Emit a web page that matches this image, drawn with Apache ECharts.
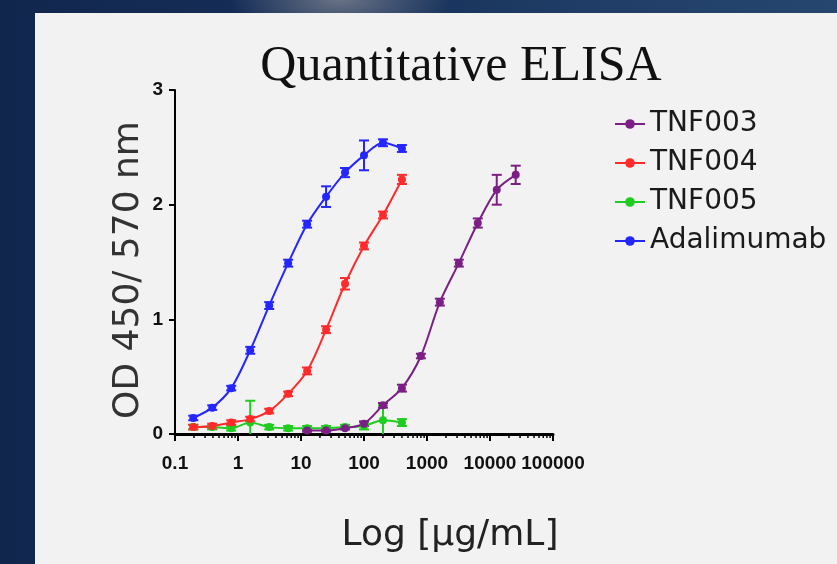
<!DOCTYPE html>
<html>
<head>
<meta charset="utf-8">
<script src="https://cdn.jsdelivr.net/npm/echarts@6/dist/echarts.min.js"></script>
<style>
  html, body { margin: 0; padding: 0; width: 837px; height: 564px; overflow: hidden; }
  body {
    background:
      radial-gradient(ellipse 110px 40px at 340px 0px, rgba(120,125,140,0.85), rgba(120,125,140,0) 100%),
      linear-gradient(90deg, #11264d 0%, #16305a 40%, #1f3d66 70%, #27466f 100%);
    position: relative;
  }
  #panel { position: absolute; left: 35px; top: 13px; width: 802px; height: 551px; background: #f2f2f2; }
</style>
</head>
<body>
<div id="panel"></div>
<script>
// dilution series (µg/mL)
var conc = [0.195, 0.39, 0.78, 1.5625, 3.125, 6.25, 12.5, 25, 50, 100, 200, 400];
var concTNF003 = [12.5, 25, 50, 100, 200, 400, 800, 1600, 3200, 6400, 12800, 25600];

// OD 450/570 readings and error (SD)
var odTNF003 = [0.03, 0.03, 0.05, 0.09, 0.25, 0.40, 0.68, 1.15, 1.49, 1.84, 2.13, 2.26];
var errTNF003 = [0.01, 0.01, 0.01, 0.02, 0.02, 0.03, 0.02, 0.03, 0.03, 0.04, 0.13, 0.08];
var odTNF004 = [0.06, 0.07, 0.10, 0.13, 0.20, 0.35, 0.55, 0.91, 1.31, 1.64, 1.91, 2.22];
var errTNF004 = [0.02, 0.02, 0.02, 0.02, 0.02, 0.02, 0.03, 0.03, 0.05, 0.03, 0.03, 0.04];
var odTNF005 = [0.06, 0.06, 0.05, 0.10, 0.06, 0.05, 0.05, 0.05, 0.06, 0.07, 0.12, 0.10];
var errTNF005 = [0.02, 0.02, 0.02, 0.19, 0.02, 0.02, 0.02, 0.02, 0.02, 0.03, 0.13, 0.03];
var odAdalimumab = [0.14, 0.23, 0.40, 0.73, 1.12, 1.49, 1.83, 2.07, 2.28, 2.43, 2.54, 2.49];
var errAdalimumab = [0.02, 0.02, 0.02, 0.03, 0.03, 0.03, 0.03, 0.09, 0.04, 0.13, 0.03, 0.03];

var xTickLabels = ['0.1', '1', '10', '100', '1000', '10000', '100000'];
var yTickLabels = ['0', '1', '2', '3'];
var minorMultipliers = [2, 3, 4, 5, 6, 7, 8, 9];

var colors = {
    TNF003: '#7b1f85',
    TNF004: '#ff2b2b',
    TNF005: '#1fcc1f',
    Adalimumab: '#2525ff'
};

function pairs(xs, ys) {
    return xs.map(function (x, i) { return [x, ys[i]]; });
}
function errPairs(xs, ys, es) {
    return xs.map(function (x, i) { return [x, ys[i] - es[i], ys[i] + es[i]]; });
}

var minorTicks = [];
for (var d = -1; d < 5; d++) {
    minorMultipliers.forEach(function (m) { minorTicks.push(m * Math.pow(10, d)); });
}

var chart = echarts.init(document.getElementById('panel'));

function lineSeries(name, xs, ys) {
    return {
        name: name,
        type: 'line',
        data: pairs(xs, ys),
        smooth: 0.3,
        symbol: 'circle',
        symbolSize: 8,
        color: colors[name],
        lineStyle: { width: 2, color: colors[name] },
        itemStyle: { color: colors[name] },
        z: 4
    };
}

function errorSeries(name, xs, ys, es) {
    return {
        name: name + ' SD',
        type: 'custom',
        clip: true,
        silent: true,
        z: 3,
        encode: { x: 0, y: [1, 2] },
        data: errPairs(xs, ys, es),
        renderItem: function (params, api) {
            var top = api.coord([api.value(0), api.value(2)]);
            var bot = api.coord([api.value(0), api.value(1)]);
            var style = { stroke: colors[name], lineWidth: 2 };
            return {
                type: 'group',
                children: [
                    { type: 'line', shape: { x1: top[0], y1: top[1], x2: bot[0], y2: bot[1] }, style: style },
                    { type: 'line', shape: { x1: top[0] - 5, y1: top[1], x2: top[0] + 5, y2: top[1] }, style: style },
                    { type: 'line', shape: { x1: bot[0] - 5, y1: bot[1], x2: bot[0] + 5, y2: bot[1] }, style: style }
                ]
            };
        }
    };
}

var option = {
    animation: false,
    title: {
        text: 'Quantitative ELISA',
        left: 421,
        top: 24,
        textAlign: 'center',
        textStyle: {
            fontFamily: 'Liberation Serif',
            fontWeight: 'normal',
            fontSize: 50,
            color: '#111'
        }
    },
    legend: {
        data: ['TNF003', 'TNF004', 'TNF005', 'Adalimumab'],
        orient: 'vertical',
        left: 574,
        top: 92,
        itemWidth: 30,
        itemHeight: 12,
        itemGap: 11,
        textStyle: { fontFamily: 'DejaVu Sans', fontSize: 28, color: '#1a1a1a' }
    },
    grid: { left: 140, top: 77, width: 378, height: 344 },
    xAxis: {
        type: 'log',
        logBase: 10,
        min: 0.1,
        max: 100000,
        name: 'Log [µg/mL]',
        nameLocation: 'middle',
        nameGap: 84,
        nameTextStyle: { fontFamily: 'DejaVu Sans', fontSize: 36, color: '#222', padding: [0, 0, 0, 172] },
        splitLine: { show: false },
        axisLine: { lineStyle: { color: '#000', width: 3 } },
        axisTick: { show: true, length: 7, lineStyle: { color: '#000', width: 2 } },
        axisLabel: {
            margin: 20,
            fontFamily: "'Liberation Sans Narrow', 'Liberation Sans'",
            fontWeight: 'bold',
            fontSize: 19,
            color: '#111',
            formatter: function (v) {
                return xTickLabels[Math.round(Math.log10(v)) + 1];
            }
        }
    },
    yAxis: {
        type: 'value',
        min: 0,
        max: 3,
        interval: 1,
        name: 'OD 450/ 570 nm',
        nameLocation: 'middle',
        nameGap: 28,
        nameTextStyle: { fontFamily: 'DejaVu Sans', fontSize: 36, color: '#333', padding: [0, 16, 0, 0] },
        splitLine: { show: false },
        axisLine: { show: true, lineStyle: { color: '#000', width: 2 } },
        axisTick: { show: true, length: 6, lineStyle: { color: '#000', width: 2 } },
        axisLabel: {
            margin: 12,
            fontFamily: "'Liberation Sans Narrow', 'Liberation Sans'",
            fontWeight: 'bold',
            fontSize: 19,
            color: '#111',
            formatter: function (v) { return yTickLabels[v]; }
        }
    },
    series: [
        {
            name: 'minor ticks',
            type: 'custom',
            silent: true,
            z: 2,
            data: minorTicks.map(function (v) { return [v, 0]; }),
            renderItem: function (params, api) {
                var p = api.coord([api.value(0), 0]);
                return {
                    type: 'line',
                    shape: { x1: p[0], y1: p[1], x2: p[0], y2: p[1] + 4 },
                    style: { stroke: '#000', lineWidth: 1.5 }
                };
            }
        },
        lineSeries('TNF005', conc, odTNF005),
        errorSeries('TNF005', conc, odTNF005, errTNF005),
        lineSeries('TNF004', conc, odTNF004),
        errorSeries('TNF004', conc, odTNF004, errTNF004),
        lineSeries('TNF003', concTNF003, odTNF003),
        errorSeries('TNF003', concTNF003, odTNF003, errTNF003),
        lineSeries('Adalimumab', conc, odAdalimumab),
        errorSeries('Adalimumab', conc, odAdalimumab, errAdalimumab)
    ]
};

chart.setOption(option);
</script>
</body>
</html>
